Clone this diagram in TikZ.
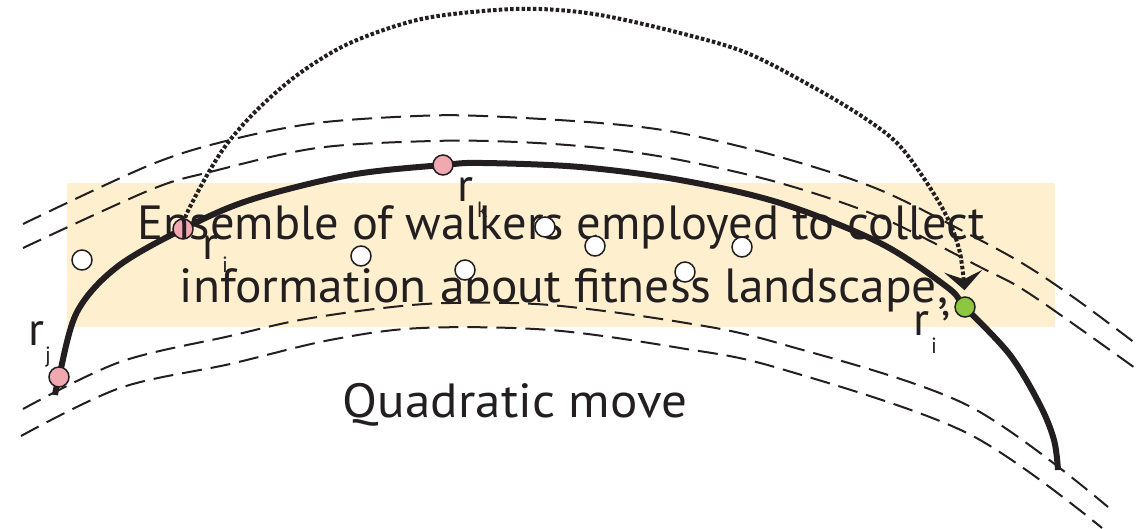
\documentclass[tikz,border=0pt]{standalone}
\usepackage{fontspec}
\setmainfont{PT Sans}
\usetikzlibrary{arrows.meta}
\definecolor{ink}{RGB}{35,31,32}
\definecolor{cream}{RGB}{254,240,206}
\definecolor{pinkdot}{RGB}{241,168,176}
\definecolor{greendot}{RGB}{141,198,63}
\pgfdeclarelayer{back}
\pgfdeclarelayer{lines}
\pgfsetlayers{back,lines,main}
\newcommand\sublab[2]{\raisebox{-#2}{\fontsize{22}{22}\selectfont #1}}
\tikzset{
  walker/.style={circle, draw=ink, line width=1.5pt, minimum size=20pt, inner sep=0pt},
  plain/.style={walker, fill=white},
  picked/.style={walker, fill=pinkdot},
  moved/.style={walker, fill=greendot},
  bigtext/.style={text=ink, inner sep=0pt, font=\fontsize{48}{58}\selectfont},
  lab/.style={text=ink, inner sep=0pt, anchor=base west, font=\fontsize{47}{56}\selectfont},
  shell/.style={draw=ink, line width=2pt, dash pattern=on 20pt off 9pt},
  surface/.style={draw=ink, line width=6pt},
  jump/.style={draw=ink, line width=4pt, dash pattern=on 3.5pt off 2.2pt},
}
\begin{document}
\begin{tikzpicture}[x=1pt,y=-1pt]
\useasboundingbox (0,0) rectangle (1145,529);

% walkers
\node[picked] (rj) at (59,377) {};
\node[picked] (ri) at (183,229) {};
\node[picked] (rk) at (443,165) {};
\node[moved] (rip) at (965,307) {};

% background box
\begin{pgfonlayer}{back}
\fill[cream] (67,183) rectangle (1055,327);
\end{pgfonlayer}

% curves
\begin{pgfonlayer}{lines}
\path[shell] plot[smooth, tension=0.55] coordinates {(23,224) (150,165) (230,140) (317,123) (417,116) (483,116) (600,123) (680,133) (780,157) (880,190) (980,240) (1030,268) (1080,302) (1135,343)};
\path[shell] plot[smooth, tension=0.55] coordinates {(23,248) (150,190) (210,172) (317,148) (433,141) (517,142) (600,148) (680,160) (780,183) (880,217) (980,267) (1030,294) (1135,368)};
\path[shell] plot[smooth, tension=0.55] coordinates {(23,409) (120,362) (230,336) (300,320) (383,308) (450,303) (550,305) (680,322) (778,343) (967,405) (1108,507)};
\path[shell] plot[smooth, tension=0.55] coordinates {(21,436) (120,388) (230,364) (330,340) (421,328) (550,330) (680,348) (778,368) (967,433) (1102,528)};
\path[surface] plot[smooth, tension=0.55] coordinates {(55,395) (rj.center) (77,312) (117,267) (ri.center) (250,200) (350,175) (rk.center) (483,163) (580,167) (680,180) (780,203) (880,243) (947,287) (rip.center) (1010,355) (1040,405) (1054,440) (1058,470)};
\path[jump, -{Stealth[length=19pt, width=38pt, inset=8pt]}, shorten >=6pt] plot[smooth, tension=0.55] coordinates {(ri.center) (187,213) (210,170) (230,140) (260,107) (300,73) (350,43) (417,20) (483,11) (540,9) (600,15) (680,33) (747,53) (813,87) (863,117) (897,143) (923,177) (947,217) (960,253) (rip.north)};
\end{pgfonlayer}

% text
\node[bigtext, anchor=base] (line1) at (561,240) {\scalebox{1.01}[1]{Ensemble of walkers employed to collect}};
\node[bigtext, anchor=base] (line2) at (564,302) {\scalebox{1.03}[1]{information about fitness landscape,}};
\node[bigtext, anchor=base] (title) at (515,417) {\scalebox{1.065}[1]{Quadratic move}};

% labels
\node[lab] (lj) at (28,345) {r\hspace{1pt}\sublab{j}{17pt}};
\node[lab] (li) at (202,260) {r\hspace{4pt}\sublab{i}{13pt}};
\node[lab] (lk) at (457,202) {r\hspace{4pt}\sublab{k}{16pt}};
\node[lab] (lip) at (913,335) {r\rlap{\hspace{2pt}\sublab{i}{18pt}}\hspace{12pt}\raisebox{-9pt}{’}};

% walkers in the ensemble
\node[plain] (w1) at (82,260) {};
\node[plain] (w2) at (361,256) {};
\node[plain] (w3) at (465,270) {};
\node[plain] (w4) at (545,227) {};
\node[plain] (w5) at (595,246) {};
\node[plain] (w6) at (685,272) {};
\node[plain] (w7) at (742,247) {};
\end{tikzpicture}
\end{document}
